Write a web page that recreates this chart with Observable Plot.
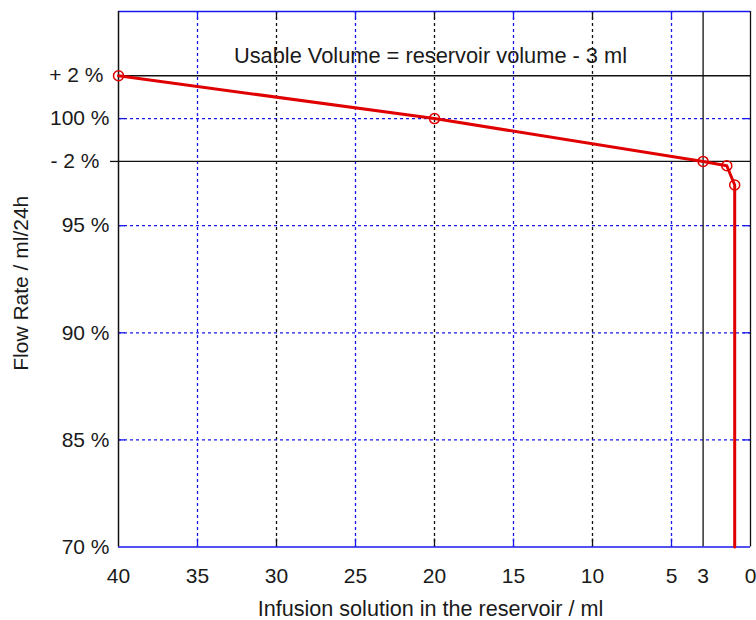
<!DOCTYPE html>
<html><head><meta charset="utf-8">
<script src="https://cdn.jsdelivr.net/npm/d3@7"></script>
<script src="https://cdn.jsdelivr.net/npm/@observablehq/plot@0.6"></script>
<style>html,body{margin:0;padding:0;background:#fff} svg{display:block}</style>
</head><body><div id="chart"></div>
<script>
// ---- data ----
const volume   = [40, 20, 3, 1.5, 1.0, 1.0];      // ml in reservoir
const flowRate = [102, 100, 98, 97.8, 96.9, 70];  // % of nominal flow
const markedCount = 5;                             // first points carry a circle marker

const xTickValues = [40, 35, 30, 25, 20, 15, 10, 5, 3, 0];
const xBlueGrid   = [35, 25, 15, 5];
const xBlackGrid  = [30, 20, 10];
const xSolidLines = [3];
const xDomain     = [40, 0];

const yTickValues = [70, 85, 90, 95, 100];
const yTickLabels = ["70 %", "85 %", "90 %", "95 %", "100 %"];
const yUpperTol   = [102];
const yUpperLabel = ["+ 2 %"];
const yLowerTol   = [98];
const yLowerLabel = ["- 2 %"];
const yBlueGrid   = [85, 90, 95, 100];
const yBreakDomain  = [70, 85, 105];   // broken axis: 70..85 squeezed
const yBreakDisplay = [80, 85, 105];   // display units of those breaks

const annotation = "Usable Volume = reservoir volume - 3 ml";
const xLabel = "Infusion solution in the reservoir / ml";
const yLabel = "Flow Rate / ml/24h";

// ---- chart ----
const W = 756, H = 620, mL = 118, mR = 6, mT = 11, mB = 73.5;
const fh = H - mT - mB, fw = W - mL - mR;
const blue = "#1818ee", red = "#e00000", black = "#111";
const fs = 21;

const toPx = d3.scaleLinear([yBreakDisplay[0], yBreakDisplay[yBreakDisplay.length - 1]], [H - mB, mT]);
const yRange = yBreakDisplay.map(toPx);

const data = volume.map((v, i) => ({v, f: flowRate[i]}));
const lab = (vals, labels) => d => labels[vals.indexOf(d)];

const chart = Plot.plot({
  width: W, height: H,
  marginLeft: mL, marginRight: mR, marginTop: mT, marginBottom: mB,
  style: {fontFamily: "'Liberation Sans', Arial, sans-serif", fontSize: fs + "px", color: "#1a1a1a", background: "#fff"},
  x: {domain: xDomain, range: [mL, W - mR]},
  y: {type: "linear", domain: yBreakDomain, range: yRange},
  marks: [
    // grid lines
    Plot.ruleX(xBlueGrid, {stroke: blue, strokeDasharray: "3,3", strokeWidth: 1.3}),
    Plot.ruleX(xBlackGrid, {stroke: black, strokeDasharray: "3,3", strokeWidth: 1.3}),
    Plot.ruleY(yBlueGrid, {stroke: blue, strokeDasharray: "3,3", strokeWidth: 1.3}),
    // inward tick stubs
    Plot.ruleX(xBlueGrid, {stroke: blue, strokeWidth: 1.3, insetTop: fh - 8}),
    Plot.ruleX(xBlueGrid, {stroke: blue, strokeWidth: 1.3, insetBottom: fh - 8}),
    Plot.ruleX(xBlackGrid, {stroke: black, strokeWidth: 1.3, insetTop: fh - 8}),
    Plot.ruleX(xBlackGrid, {stroke: black, strokeWidth: 1.3, insetBottom: fh - 8}),
    Plot.ruleY(yBlueGrid, {stroke: blue, strokeWidth: 1.3, insetRight: fw - 7}),
    Plot.ruleY(yBlueGrid, {stroke: blue, strokeWidth: 1.3, insetLeft: fw - 7}),
    // solid reference lines
    Plot.ruleX(xSolidLines, {stroke: black, strokeWidth: 1.3}),
    Plot.ruleY(yUpperTol, {stroke: black, strokeWidth: 1.3}),
    Plot.ruleY(yLowerTol, {stroke: black, strokeWidth: 1.3}),
    // frame
    Plot.ruleY([yBreakDomain[0]], {stroke: blue, strokeWidth: 1.5}),
    Plot.ruleY([yBreakDomain[yBreakDomain.length - 1]], {stroke: blue, strokeWidth: 1.5}),
    Plot.ruleX([xDomain[0]], {stroke: black, strokeWidth: 1.5}),
    Plot.ruleX([xDomain[1]], {stroke: black, strokeWidth: 1.3}),
    // series
    Plot.line(data, {x: "v", y: "f", stroke: red, strokeWidth: 3}),
    Plot.dot(data.slice(0, markedCount), {x: "v", y: "f", r: 5, stroke: red, strokeWidth: 1.5, fill: "none"}),
    // axes
    Plot.axisX({anchor: "bottom", ticks: xTickValues, tickSize: 0, tickPadding: 21.5, tickFormat: d => String(d), label: null}),
    Plot.axisY({anchor: "left", ticks: yTickValues, tickSize: 0, tickPadding: 9, tickFormat: lab(yTickValues, yTickLabels), label: null}),
    Plot.axisY({anchor: "left", ticks: yUpperTol, tickSize: 0, tickPadding: 15, tickFormat: lab(yUpperTol, yUpperLabel), label: null}),
    Plot.axisY({anchor: "left", ticks: yLowerTol, tickSize: 8, tickPadding: 11, stroke: black, strokeWidth: 1.3, tickFormat: lab(yLowerTol, yLowerLabel), label: null}),
    // texts
    Plot.text([annotation], {text: d => d, frameAnchor: "top", textAnchor: "middle", dx: -4, dy: 51, lineAnchor: "bottom", fontSize: 21.8, fill: "#1a1a1a"}),
    Plot.text([xLabel], {text: d => d, frameAnchor: "bottom", textAnchor: "middle", dx: -4, dy: 68.5, lineAnchor: "bottom", fontSize: 21.6, fill: "#1a1a1a"}),
    Plot.text([yLabel], {text: d => d, frameAnchor: "left", textAnchor: "middle", rotate: -90, dx: -97, dy: 4, lineAnchor: "middle", fontSize: 21, fill: "#1a1a1a"})
  ]
});
document.getElementById("chart").appendChild(chart);
</script>
</body></html>
